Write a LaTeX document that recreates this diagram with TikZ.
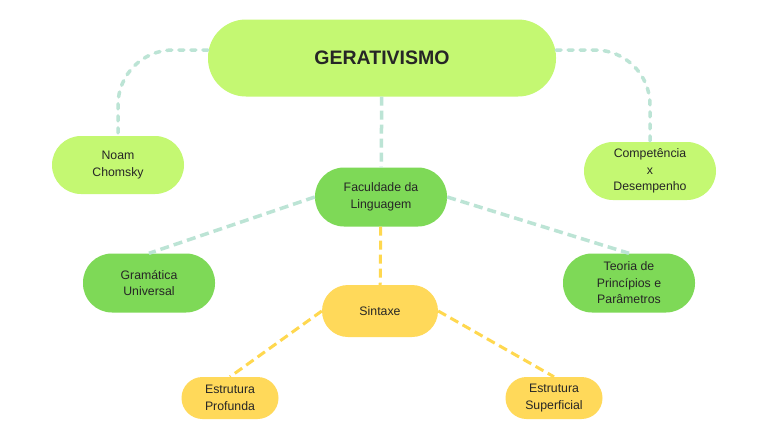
\documentclass[tikz,border=0pt]{standalone}
\usepackage{fontspec}
\setmainfont{Liberation Sans}
\usetikzlibrary{positioning,calc}
\definecolor{lime}{HTML}{C4F872}
\definecolor{leaf}{HTML}{7ED957}
\definecolor{sun}{HTML}{FFD95A}
\definecolor{mint}{HTML}{BCE4D5}
\definecolor{sundash}{HTML}{FFD84F}
\definecolor{ink}{HTML}{262626}
\newcommand{\lbl}{\fontsize{12.3pt}{16.5pt}\selectfont}
\tikzset{
  pill/.style={rectangle, inner sep=0pt, align=center, text=ink, font=\lbl},
  topbox/.style={pill, fill=lime, minimum width=348pt, minimum height=77pt,
    rounded corners=38pt, font=\fontsize{19.5pt}{22pt}\selectfont\bfseries},
  limebox/.style={pill, fill=lime, minimum width=132pt, minimum height=58pt, rounded corners=29pt},
  leafbox/.style={pill, fill=leaf, minimum width=132pt, minimum height=59pt, rounded corners=29pt},
  sunbox/.style={pill, fill=sun, minimum width=116pt, minimum height=52pt, rounded corners=26pt},
  smallbox/.style={pill, fill=sun, minimum width=97pt, minimum height=42pt, rounded corners=21pt},
  mintline/.style={draw=mint, line width=3.5pt, dash pattern=on 9pt off 5pt},
  mintcurve/.style={draw=mint, line width=3.5pt, line cap=round, dash pattern=on 5pt off 7pt,
    rounded corners=55pt},
  sunline/.style={draw=sundash, line width=3pt, dash pattern=on 9pt off 5pt},
}

\begin{document}
\begin{tikzpicture}[x=1pt, y=-1pt]
    \useasboundingbox[fill=white] (0,0) rectangle (768,431);
    \node[topbox] (ger) at (382,58) {GERATIVISMO};
    \node[limebox] (noam) at (118,165) {Noam\\Chomsky};
    \node[limebox] (comp) at (650,171) {Competência\\x\\Desempenho};
    \node[leafbox] (fac) at (381,197) {Faculdade da\\Linguagem};
    \node[leafbox] (gram) at (149,283) {Gramática\\Universal};
    \node[leafbox] (teor) at (629,283) {Teoria de\\Princípios e\\Parâmetros};
    \node[sunbox] (sint) at (380,311) {Sintaxe};
    \node[smallbox] (prof) at (230,398) {Estrutura\\Profunda};
    \node[smallbox] (sup) at (554,398) {Estrutura\\Superficial};
    % ligações
    \draw[mintcurve] ([yshift=8pt]ger.west) -| (noam.north);
    \draw[mintcurve] ([yshift=8pt]ger.east) -| (comp.north);
    \draw[mintline] (ger) -- (fac);
    \foreach \i/\j in {fac.west/gram.north,fac.east/teor.north} \draw[mintline] (\i) -- (\j);
    \draw[sunline] (fac) -- (sint);
    \foreach \i/\j in {sint.west/prof.north,sint.east/sup.north} \draw[sunline] (\i) -- (\j);
  \end{tikzpicture}
\end{document}
